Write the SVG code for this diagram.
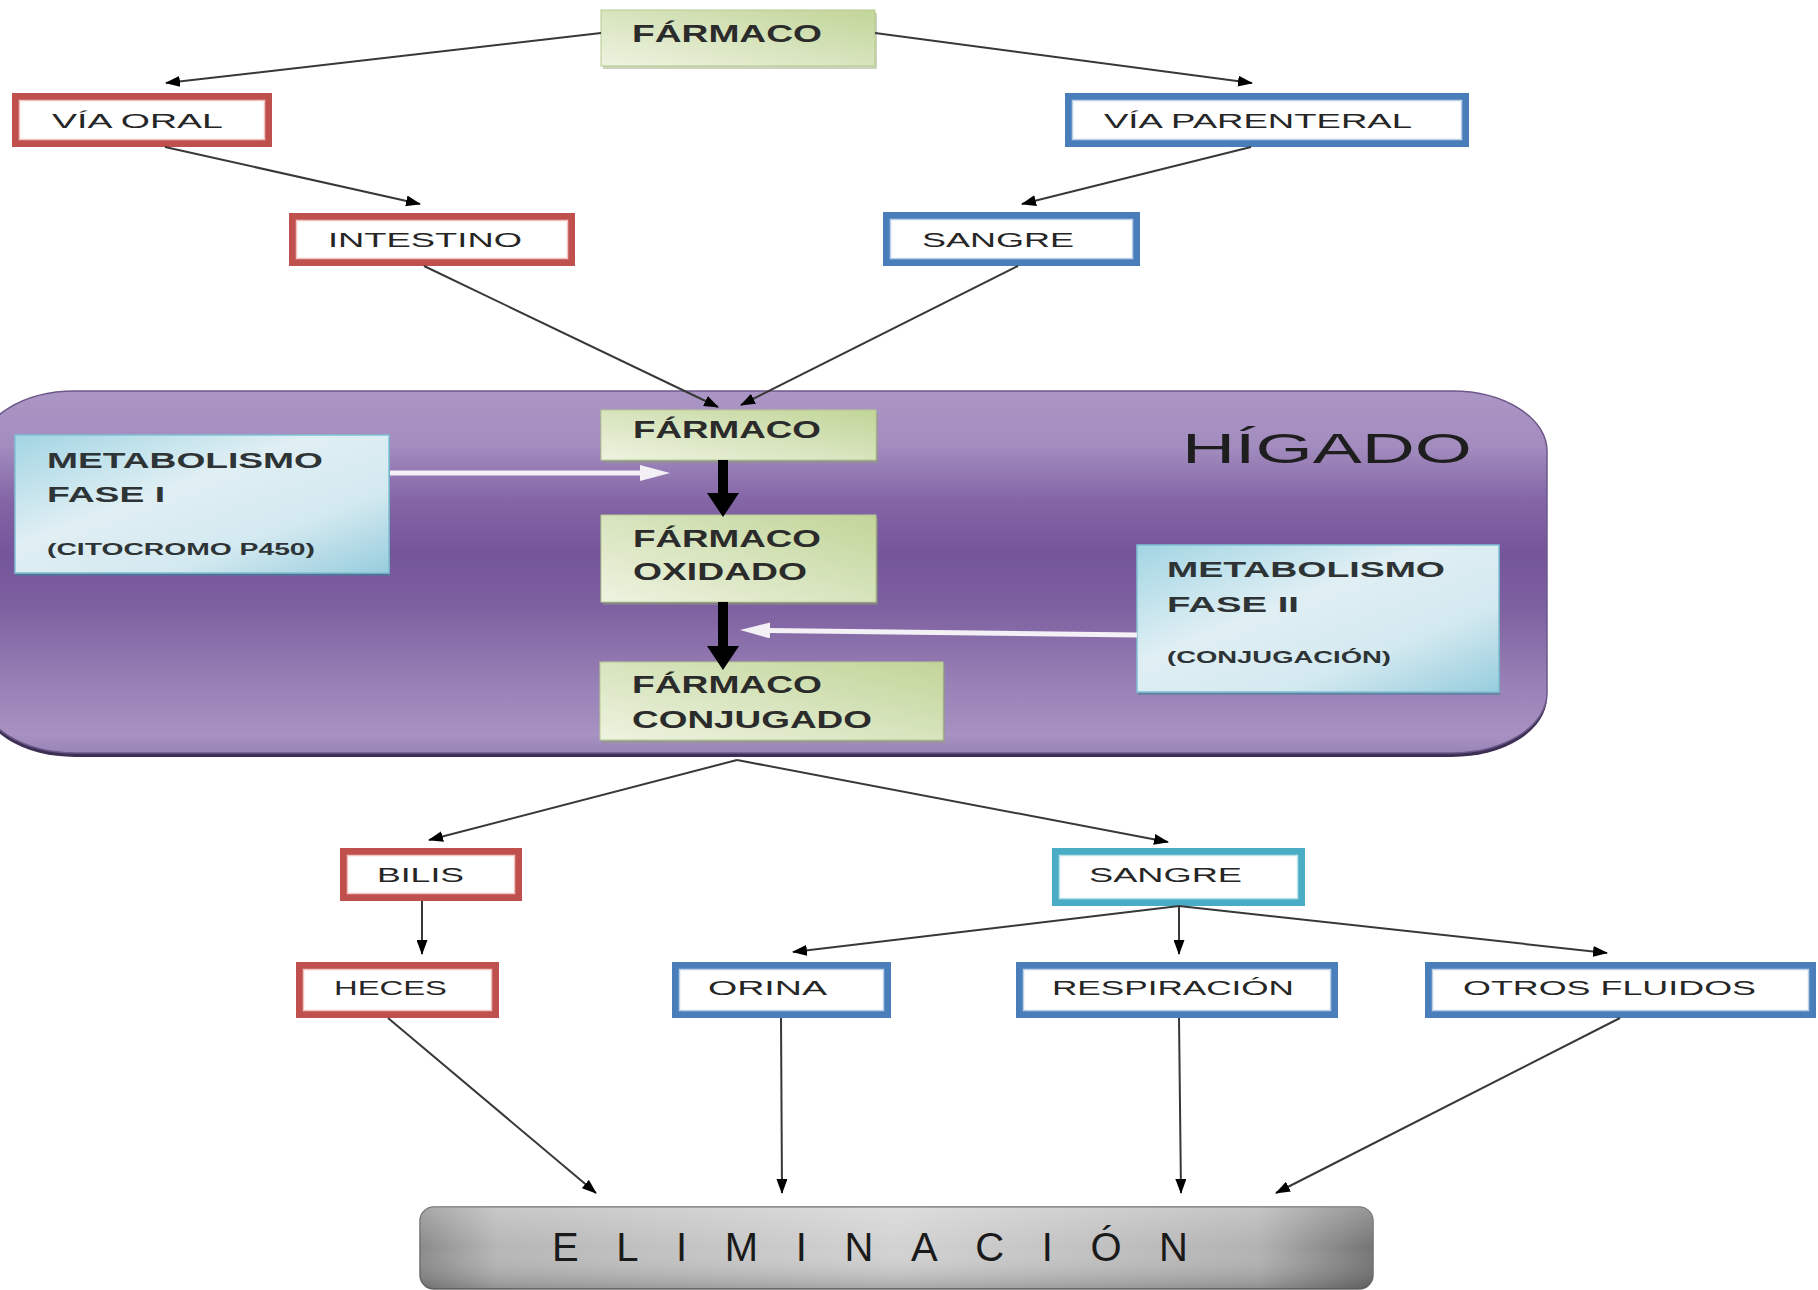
<svg xmlns="http://www.w3.org/2000/svg" width="1818" height="1290" viewBox="0 0 1818 1290">
<defs>
<style>
text { font-family: 'Liberation Sans', Arial, sans-serif; }
.lbl { font-size: 21px; fill: #262626; }
.glbl { font-size: 24px; font-weight: bold; fill: #2b2b2b; }
.mlbl { font-size: 22px; font-weight: bold; fill: #2e3436; }
.msub { font-size: 16px; font-weight: bold; fill: #2e3436; }
.red { fill: #ffffff; stroke: #c0504d; stroke-width: 7; }
.redin { fill: none; stroke: #efc4c2; stroke-width: 1.5; }
.blue { fill: #ffffff; stroke: #4a7ebb; stroke-width: 7; }
.bluein { fill: none; stroke: #bcd0e8; stroke-width: 1.5; }
.cyan { fill: #ffffff; stroke: #4bacc6; stroke-width: 7; }
.cyanin { fill: none; stroke: #bfe3ec; stroke-width: 1.5; }
.green { fill: url(#gGreen); stroke: #b6c990; stroke-width: 1; }
.gshadow { fill: #8e9f6c; opacity: 0.45; }
.lblue { fill: url(#gBlue); stroke: #80c1d3; stroke-width: 1.5; }
.bshadow { fill: #3f7f94; opacity: 0.55; }
.conn { stroke: #383838; stroke-width: 2; fill: none; marker-end: url(#ah); }
.thick { stroke: #000000; stroke-width: 10; fill: none; marker-end: url(#ahThick); }
.white { stroke: #f3f0f6; stroke-width: 5; fill: none; marker-end: url(#ahWhite); }
</style>
<linearGradient id="gGreen" x1="1" y1="0" x2="0" y2="1">
<stop offset="0" stop-color="#c2d598"/>
<stop offset="0.5" stop-color="#d7e4bd"/>
<stop offset="1" stop-color="#eef3e0"/>
</linearGradient>
<linearGradient id="gBlue" x1="0" y1="0" x2="1" y2="1">
<stop offset="0" stop-color="#a2d5e3"/>
<stop offset="0.4" stop-color="#e0eff4"/>
<stop offset="0.7" stop-color="#d3e9f0"/>
<stop offset="1" stop-color="#97cddd"/>
</linearGradient>
<linearGradient id="gLiver" x1="0" y1="0" x2="0" y2="1">
<stop offset="0" stop-color="#ab96c5"/>
<stop offset="0.15" stop-color="#a38dbf"/>
<stop offset="0.3" stop-color="#8466a6"/>
<stop offset="0.45" stop-color="#74559a"/>
<stop offset="0.6" stop-color="#7e61a1"/>
<stop offset="0.8" stop-color="#9780b5"/>
<stop offset="0.95" stop-color="#a792c2"/>
<stop offset="1" stop-color="#9a84b8"/>
</linearGradient>
<linearGradient id="gGrayH" x1="0" y1="0" x2="1" y2="0">
<stop offset="0" stop-color="#8a8a8a"/>
<stop offset="0.08" stop-color="#b6b6b6"/>
<stop offset="0.5" stop-color="#d2d2d2"/>
<stop offset="0.88" stop-color="#b2b2b2"/>
<stop offset="1" stop-color="#747474"/>
</linearGradient>
<linearGradient id="gGrayV" x1="0" y1="0" x2="0" y2="1">
<stop offset="0" stop-color="#ffffff" stop-opacity="0.25"/>
<stop offset="0.5" stop-color="#ffffff" stop-opacity="0"/>
<stop offset="1" stop-color="#000000" stop-opacity="0.2"/>
</linearGradient>
<marker id="ah" markerUnits="userSpaceOnUse" markerWidth="15" markerHeight="11" refX="14" refY="5.5" orient="auto">
<path d="M0,0 L15,5.5 L0,11 z" fill="#000000"/>
</marker>
<marker id="ahThick" markerUnits="userSpaceOnUse" markerWidth="24" markerHeight="32" refX="2" refY="16" orient="auto">
<path d="M0,0 L24,16 L0,32 z" fill="#000000"/>
</marker>
<marker id="ahWhite" markerUnits="userSpaceOnUse" markerWidth="30" markerHeight="16" refX="2" refY="8" orient="auto">
<path d="M0,0 L30,8 L0,16 z" fill="#f3f0f6"/>
</marker>
</defs>
<rect x="0" y="0" width="1818" height="1290" fill="#ffffff"/>

<g id="higado">
<rect x="-20" y="395" width="1567" height="362" rx="95" ry="60" fill="#3e2f55"/>
<rect x="-20" y="391" width="1567" height="362" rx="95" ry="60" fill="url(#gLiver)" stroke="#6c5889" stroke-width="1.5"/>
<text x="1182" y="463" font-size="42" fill="#1e1e1e" textLength="290" lengthAdjust="spacingAndGlyphs">HÍGADO</text>
</g>

<g id="farmaco-top">
<rect class="gshadow" x="603" y="13" width="274" height="56"/>
<rect class="green" x="601" y="10" width="274" height="56"/>
<text class="glbl" x="632" y="42" textLength="190" lengthAdjust="spacingAndGlyphs">FÁRMACO</text>
</g>

<g id="via-oral">
<rect class="red" x="15.5" y="96.5" width="253" height="47"/>
<rect class="redin" x="19.5" y="100.5" width="245" height="39"/>
<text class="lbl" x="52" y="128" textLength="171" lengthAdjust="spacingAndGlyphs">VÍA ORAL</text>
</g>

<g id="intestino">
<rect class="red" x="292.5" y="216.5" width="279" height="46"/>
<rect class="redin" x="296.5" y="220.5" width="271" height="38"/>
<text class="lbl" x="328" y="247" textLength="194" lengthAdjust="spacingAndGlyphs">INTESTINO</text>
</g>

<g id="via-parenteral">
<rect class="blue" x="1068.5" y="96.5" width="397" height="47"/>
<rect class="bluein" x="1072.5" y="100.5" width="389" height="39"/>
<text class="lbl" x="1104" y="128" textLength="308" lengthAdjust="spacingAndGlyphs">VÍA PARENTERAL</text>
</g>

<g id="sangre-1">
<rect class="blue" x="886.5" y="215.5" width="250" height="47"/>
<rect class="bluein" x="890.5" y="219.5" width="242" height="39"/>
<text class="lbl" x="922" y="247" textLength="152" lengthAdjust="spacingAndGlyphs">SANGRE</text>
</g>

<g id="farmaco-higado">
<rect class="gshadow" x="603" y="413" width="275" height="50"/>
<rect class="green" x="601" y="410" width="275" height="50"/>
<text class="glbl" x="633" y="438" textLength="188" lengthAdjust="spacingAndGlyphs">FÁRMACO</text>
</g>

<g id="farmaco-oxidado">
<rect class="gshadow" x="603" y="518" width="275" height="87"/>
<rect class="green" x="601" y="515" width="275" height="87"/>
<text class="glbl" x="633" y="547" textLength="188" lengthAdjust="spacingAndGlyphs">FÁRMACO</text>
<text class="glbl" x="633" y="580" textLength="174" lengthAdjust="spacingAndGlyphs">OXIDADO</text>
</g>

<g id="farmaco-conjugado">
<rect class="gshadow" x="602" y="665" width="343" height="78"/>
<rect class="green" x="600" y="662" width="343" height="78"/>
<text class="glbl" x="632" y="693" textLength="190" lengthAdjust="spacingAndGlyphs">FÁRMACO</text>
<text class="glbl" x="632" y="728" textLength="240" lengthAdjust="spacingAndGlyphs">CONJUGADO</text>
</g>

<g id="fase-1">
<rect class="bshadow" x="16" y="438" width="374" height="138"/>
<rect class="lblue" x="15" y="435" width="374" height="138"/>
<text class="mlbl" x="47" y="468" textLength="276" lengthAdjust="spacingAndGlyphs">METABOLISMO</text>
<text class="mlbl" x="47" y="502" textLength="118" lengthAdjust="spacingAndGlyphs">FASE I</text>
<text class="msub" x="47" y="555" textLength="268" lengthAdjust="spacingAndGlyphs">(CITOCROMO P450)</text>
</g>

<g id="fase-2">
<rect class="bshadow" x="1138" y="548" width="362" height="147"/>
<rect class="lblue" x="1137" y="545" width="362" height="147"/>
<text class="mlbl" x="1167" y="577" textLength="278" lengthAdjust="spacingAndGlyphs">METABOLISMO</text>
<text class="mlbl" x="1167" y="612" textLength="132" lengthAdjust="spacingAndGlyphs">FASE II</text>
<text class="msub" x="1167" y="663" textLength="224" lengthAdjust="spacingAndGlyphs">(CONJUGACIÓN)</text>
</g>

<g id="bilis">
<rect class="red" x="343.5" y="851.5" width="175" height="46"/>
<rect class="redin" x="347.5" y="855.5" width="167" height="38"/>
<text class="lbl" x="377" y="882" textLength="87" lengthAdjust="spacingAndGlyphs">BILIS</text>
</g>

<g id="heces">
<rect class="red" x="299.5" y="965.5" width="196" height="49"/>
<rect class="redin" x="303.5" y="969.5" width="188" height="41"/>
<text class="lbl" x="334" y="995" textLength="113" lengthAdjust="spacingAndGlyphs">HECES</text>
</g>

<g id="sangre-2">
<rect class="cyan" x="1055.5" y="851.5" width="246" height="51"/>
<rect class="cyanin" x="1059.5" y="855.5" width="238" height="43"/>
<text class="lbl" x="1089" y="882" textLength="153" lengthAdjust="spacingAndGlyphs">SANGRE</text>
</g>

<g id="orina">
<rect class="blue" x="675.5" y="965.5" width="212" height="49"/>
<rect class="bluein" x="679.5" y="969.5" width="204" height="41"/>
<text class="lbl" x="708" y="995" textLength="119" lengthAdjust="spacingAndGlyphs">ORINA</text>
</g>

<g id="respiracion">
<rect class="blue" x="1019.5" y="965.5" width="315" height="49"/>
<rect class="bluein" x="1023.5" y="969.5" width="307" height="41"/>
<text class="lbl" x="1052" y="995" textLength="242" lengthAdjust="spacingAndGlyphs">RESPIRACIÓN</text>
</g>

<g id="otros-fluidos">
<rect class="blue" x="1428.5" y="965.5" width="384" height="49"/>
<rect class="bluein" x="1432.5" y="969.5" width="376" height="41"/>
<text class="lbl" x="1463" y="995" textLength="293" lengthAdjust="spacingAndGlyphs">OTROS FLUIDOS</text>
</g>

<g id="eliminacion">
<rect x="420" y="1207" width="953" height="82" rx="14" fill="url(#gGrayH)" stroke="#6d6d6d" stroke-width="1.5"/>
<rect x="420" y="1207" width="953" height="82" rx="14" fill="url(#gGrayV)"/>
<text x="552" y="1261" font-size="40" fill="#1a1a1a" textLength="636" lengthAdjust="spacing">ELIMINACIÓN</text>
</g>

<g id="connectors">
<line class="conn" x1="601" y1="33" x2="166" y2="83"/>
<line class="conn" x1="875" y1="33" x2="1252" y2="83"/>
<line class="conn" x1="165" y1="147" x2="420" y2="204"/>
<line class="conn" x1="1251" y1="147" x2="1022" y2="204"/>
<line class="conn" x1="424" y1="266" x2="718" y2="407"/>
<line class="conn" x1="1018" y1="266" x2="741" y2="405"/>
<line class="thick" x1="723" y1="460" x2="723" y2="495"/>
<line class="thick" x1="723" y1="602" x2="723" y2="648"/>
<line class="white" x1="390" y1="473" x2="642" y2="473"/>
<line class="white" x1="1137" y1="635" x2="768" y2="630.4"/>
<line class="conn" x1="737" y1="760" x2="429" y2="840"/>
<line class="conn" x1="737" y1="760" x2="1168" y2="842"/>
<line class="conn" x1="422" y1="901" x2="422" y2="954"/>
<line class="conn" x1="1179" y1="906" x2="793" y2="952"/>
<line class="conn" x1="1179" y1="906" x2="1179" y2="954"/>
<line class="conn" x1="1179" y1="906" x2="1607" y2="953"/>
<line class="conn" x1="388" y1="1018" x2="596" y2="1193"/>
<line class="conn" x1="781" y1="1018" x2="782" y2="1193"/>
<line class="conn" x1="1179" y1="1018" x2="1181" y2="1193"/>
<line class="conn" x1="1620" y1="1018" x2="1276" y2="1193"/>
</g>
</svg>
